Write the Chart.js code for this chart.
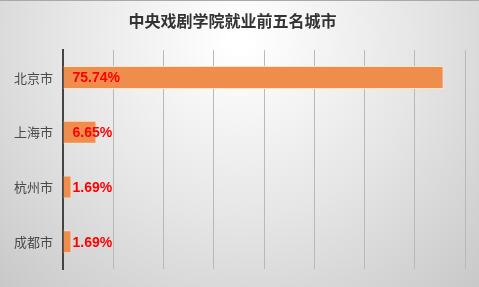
<!DOCTYPE html>
<html>
<head>
<meta charset="utf-8">
<script src="https://cdn.jsdelivr.net/npm/chart.js@4"></script>
<style>
html, body { margin: 0; padding: 0; background: #fff; }
#wrap { width: 479px; height: 287px; position: relative; }
</style>
</head>
<body>
<div id="wrap"><canvas id="cityChart"></canvas></div>
<script>
const cities = ['北京市', '上海市', '杭州市', '成都市'];
const shares = [75.74, 6.65, 1.69, 1.69];
const shareLabels = ['75.74%', '6.65%', '1.69%', '1.69%'];

// gray radial background like the original picture
const backdrop = {
    id: 'backdrop',
    beforeDraw(chart) {
        const ctx = chart.ctx;
        const w = chart.width, h = chart.height;
        ctx.save();
        const g = ctx.createRadialGradient(w / 2, 40, 10, w / 2, 40, 380);
        g.addColorStop(0, '#ffffff');
        g.addColorStop(0.45, '#e6e6e6');
        g.addColorStop(1, '#c2c2c2');
        ctx.fillStyle = g;
        ctx.fillRect(0, 0, w, h);
        ctx.fillStyle = '#a9a9a9';
        ctx.fillRect(0, 0, w, 1);
        ctx.restore();
    }
};

// red value text at the start of each bar
const valueText = {
    id: 'valueText',
    afterDatasetsDraw(chart) {
        const ctx = chart.ctx;
        const meta = chart.getDatasetMeta(0);
        ctx.save();
        ctx.font = 'bold 14px "Liberation Sans", Arial, sans-serif';
        ctx.fillStyle = '#ff0000';
        ctx.textBaseline = 'middle';
        ctx.textAlign = 'left';
        meta.data.forEach((bar, i) => {
            ctx.fillText(shareLabels[i], bar.base + 9, bar.y + 1);
        });
        ctx.restore();
    }
};

new Chart(document.getElementById('cityChart'), {
    type: 'bar',
    data: {
        labels: cities,
        datasets: [
            {
                data: shares,
                backgroundColor: '#ee8d4c',
                borderColor: '#fbe3cc',
                borderWidth: 1,
                borderSkipped: 'left',
                categoryPercentage: 1,
                barPercentage: 0.42
            }
        ]
    },
    options: {
        indexAxis: 'y',
        responsive: true,
        maintainAspectRatio: false,
        animation: false,
        layout: { padding: { left: 0, right: 14, top: 0, bottom: 0 } },
        plugins: {
            legend: { display: false },
            tooltip: { enabled: false },
            title: {
                display: true,
                text: '中央戏剧学院就业前五名城市',
                color: '#333333',
                font: { size: 16, weight: 'bold', family: '"Noto Sans CJK SC", sans-serif' },
                padding: { top: 11, bottom: 20 }
            }
        },
        scales: {
            x: {
                min: 0,
                max: 80,
                ticks: { display: false, stepSize: 10 },
                border: { display: false },
                grid: { color: '#b9b9b9', lineWidth: 1, drawTicks: false },
                afterFit(scale) { scale.height = 14; }
            },
            y: {
                ticks: {
                    color: '#4a4a4a',
                    padding: 10,
                    font: { size: 13, family: '"Noto Sans CJK SC", sans-serif' }
                },
                grid: { display: false, drawTicks: false },
                border: { display: true, color: '#444444', width: 2 },
                afterFit(scale) { scale.width = 63; }
            }
        }
    },
    plugins: [backdrop, valueText]
});
</script>
</body>
</html>
